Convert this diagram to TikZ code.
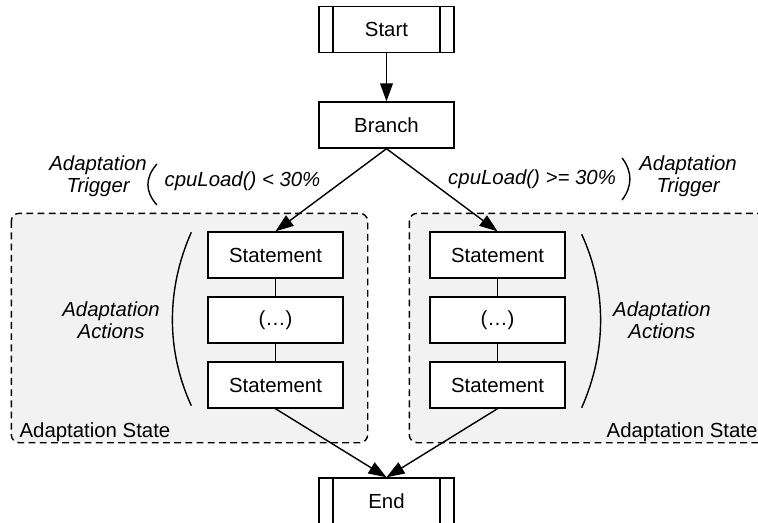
\documentclass[tikz,border=0pt]{standalone}
\usepackage{fontspec}
\setmainfont{Liberation Sans}
\usetikzlibrary{calc,positioning,arrows.meta,backgrounds}
\tikzset{
	ad_base/.style={font=\fontsize{14.5}{15.5}\selectfont, on grid},
	ad_block/.style={ad_base, draw, rectangle, fill=white, line width=1pt, minimum width=33.75mm, minimum height=11.5mm, inner sep=0pt, align=center},
	ad_term/.style={ad_block, path picture={
		\draw[line width=1pt] ([xshift=3.5mm]path picture bounding box.north west) -- ([xshift=3.5mm]path picture bounding box.south west);
		\draw[line width=1pt] ([xshift=-3.5mm]path picture bounding box.north east) -- ([xshift=-3.5mm]path picture bounding box.south east);}},
	ad_label/.style={ad_base, align=center, inner sep=0pt, font=\fontsize{14.5}{15.5}\selectfont\itshape},
	ad_text/.style={ad_base, inner sep=0pt},
	ad_line/.style={draw=black, line width=1pt, -{Triangle[length=4.5mm, width=3.2mm]}},
	ad_link/.style={draw=black, line width=1pt},
	ad_state/.style={draw, fill=gray!10, line width=1pt, dash pattern=on 1.7mm off 1.1mm, rounded corners=2mm}
}
\begin{document}
\begin{tikzpicture}
	\useasboundingbox (0,0) rectangle (189.5mm,-130.75mm);
	\node [ad_term] (start) at (96.625mm,-7.375mm) {Start};
	\node [ad_block, below = 23.875mm of start] (branch) {Branch};
	\node [ad_block, below left = 32.5mm and 27.75mm of branch] (l1) {Statement};
	\node [ad_block, below = 16.25mm of l1] (l2) {(…)};
	\node [ad_block, below = 16.25mm of l2] (l3) {Statement};
	\node [ad_block, below right = 32.5mm and 27.75mm of branch] (r1) {Statement};
	\node [ad_block, below = 16.25mm of r1] (r2) {(…)};
	\node [ad_block, below = 16.25mm of r2] (r3) {Statement};
	\node [ad_term, below = 94mm of branch] (end) {End};

	\node [ad_label, below left = 14mm and 36mm of branch] (condl) {cpuLoad() < 30\%};
	\node [ad_label, below left = 12.75mm and 72.1mm of branch] (trigl) {Adaptation\\Trigger};
	\node [ad_label, below right = 13.5mm and 36.4mm of branch] (condr) {cpuLoad() >= 30\%};
	\node [ad_label, below right = 12.75mm and 75.4mm of branch] (trigr) {Adaptation\\Trigger};
	\node [ad_label, left = 41.1mm of l2] (actl) {Adaptation\\Actions};
	\node [ad_label, right = 41.1mm of r2] (actr) {Adaptation\\Actions};
	\node [ad_text, anchor=base west] (statel) at ($(l3.south west)+(-47mm,-7.25mm)$) {Adaptation State};
	\node [ad_text, anchor=base east] (stater) at ($(r3.south east)+(48mm,-7.25mm)$) {Adaptation State};

	\begin{scope}[on background layer]
		\draw [ad_state] ($(l1.north west)+(-49mm,4.5mm)$) rectangle ($(l3.south east)+(6mm,-8.5mm)$);
		\draw [ad_state] ($(r1.north west)+(-5mm,4.5mm)$) rectangle ($(r3.south east)+(51mm,-8.5mm)$);
	\end{scope}

	\path [ad_line] (start) -- (branch);
	\path [ad_line] (branch.south) -- (l1.north);
	\path [ad_line] (branch.south) -- (r1.north);
	\path [ad_line] (l3.south) -- (end.north);
	\path [ad_line] (r3.south) -- (end.north);
	\path [ad_link] (l1.south) -- (l2.north) (l2.south) -- (l3.north);
	\path [ad_link] (r1.south) -- (r2.north) (r2.south) -- (r3.north);

	\draw [ad_link] ($(branch)+(-57.4mm,-9.75mm)$) .. controls ($(branch)+(-60.4mm,-13.2mm)$) and ($(branch)+(-60.4mm,-16.6mm)$) .. ($(branch)+(-57.4mm,-20mm)$);
	\draw [ad_link] ($(branch)+(58.9mm,-8.25mm)$) .. controls ($(branch)+(61.5mm,-11.7mm)$) and ($(branch)+(61.5mm,-15.3mm)$) .. ($(branch)+(58.9mm,-18.75mm)$);
	\draw [ad_link] ($(l1.north west)+(-4mm,-0.25mm)$) .. controls ($(l1.north west)+(-10.3mm,-14.5mm)$) and ($(l3.south west)+(-10.3mm,14.5mm)$) .. ($(l3.south west)+(-4mm,0.75mm)$);
	\draw [ad_link] ($(r1.north east)+(4mm,-0.75mm)$) .. controls ($(r1.north east)+(10.3mm,-14.5mm)$) and ($(r3.south east)+(10.3mm,14.5mm)$) .. ($(r3.south east)+(4mm,0.25mm)$);
\end{tikzpicture}
\end{document}
